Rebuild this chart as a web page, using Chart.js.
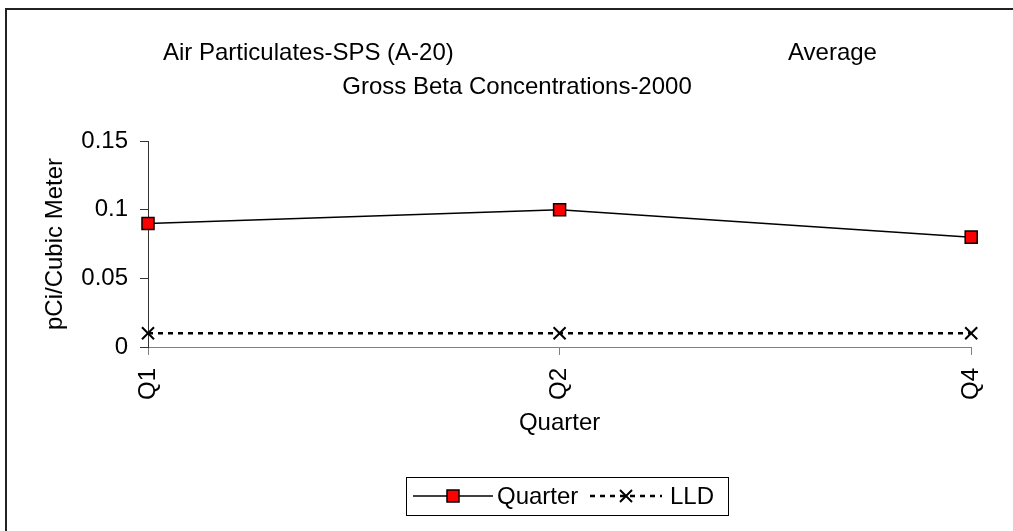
<!DOCTYPE html>
<html>
<head>
<meta charset="utf-8">
<script src="https://cdn.jsdelivr.net/npm/chart.js@4.4.1/dist/chart.umd.min.js"></script>
<style>
    html, body { margin: 0; padding: 0; background: #fff; }
    #wrap { width: 1013px; height: 531px; position: relative; }
</style>
</head>
<body>
<div id="wrap"><canvas id="gross_beta"></canvas></div>
<script>
const quarters = ['Q1', 'Q2', 'Q4'];
const quarterValues = [0.09, 0.1, 0.08];
const lldValues = [0.01, 0.01, 0.01];
const yTicks = [0, 0.05, 0.1, 0.15];

const titleLeft = 'Air Particulates-SPS (A-20)';
const titleRight = 'Average';
const titleSecond = 'Gross Beta Concentrations-2000';

const FONT = "Arial, 'Liberation Sans', sans-serif";

// frame + titles
const framePlugin = {
    id: 'frame',
    beforeDraw(chart) {
        const ctx = chart.ctx;
        ctx.save();
        ctx.fillStyle = '#fff';
        ctx.fillRect(0, 0, chart.width, chart.height);
        ctx.strokeStyle = '#222';
        ctx.lineWidth = 2;
        ctx.beginPath();
        ctx.moveTo(6, chart.height + 5);
        ctx.lineTo(6, 9);
        ctx.lineTo(chart.width + 5, 9);
        ctx.stroke();
        ctx.restore();
    },
    afterDraw(chart) {
        const ctx = chart.ctx;
        ctx.save();
        ctx.fillStyle = '#000';
        ctx.font = '24px ' + FONT;
        ctx.textBaseline = 'alphabetic';
        ctx.textAlign = 'left';
        ctx.fillText(titleLeft, 163, 60);
        ctx.fillText(titleRight, 788, 60);
        ctx.textAlign = 'center';
        ctx.fillText(titleSecond, 517, 94);
        ctx.restore();
    }
};

// legend box drawn from the dataset styles
const legendPlugin = {
    id: 'boxLegend',
    afterDraw(chart) {
        const ctx = chart.ctx;
        const ds = chart.data.datasets;
        const box = {x: 406, y: 477, w: 322, h: 38};
        const midY = box.y + box.h / 2;
        ctx.save();
        ctx.fillStyle = '#fff';
        ctx.fillRect(box.x, box.y, box.w, box.h);
        ctx.strokeStyle = '#000';
        ctx.lineWidth = 1;
        ctx.strokeRect(box.x + 0.5, box.y + 0.5, box.w, box.h);

        const items = [{x: 413, w: 80, textX: 497}, {x: 590, w: 72, textX: 670}];
        items.forEach((item, i) => {
            const d = ds[i];
            ctx.save();
            ctx.strokeStyle = d.borderColor;
            ctx.lineWidth = d.borderWidth;
            ctx.setLineDash(d.borderDash || []);
            ctx.beginPath();
            ctx.moveTo(item.x, midY);
            ctx.lineTo(item.x + item.w, midY);
            ctx.stroke();
            ctx.restore();
            ctx.save();
            ctx.fillStyle = d.pointBackgroundColor;
            ctx.strokeStyle = d.pointBorderColor;
            ctx.lineWidth = d.pointBorderWidth;
            Chart.helpers.drawPoint(ctx, {
                pointStyle: d.pointStyle,
                radius: d.pointRadius,
                borderWidth: d.pointBorderWidth,
                rotation: 0
            }, item.x + item.w / 2, midY);
            ctx.restore();
            ctx.fillStyle = '#000';
            ctx.font = '24px ' + FONT;
            ctx.textBaseline = 'middle';
            ctx.textAlign = 'left';
            ctx.fillText(d.label, item.textX, midY + 1);
        });
        ctx.restore();
    }
};

const ctx = document.getElementById('gross_beta').getContext('2d');
const myChart = new Chart(ctx, {
    type: 'line',
    data: {
        labels: quarters,
        datasets: [{
            label: 'Quarter',
            data: quarterValues,
            borderColor: '#000',
            borderWidth: 1.5,
            tension: 0,
            fill: false,
            pointStyle: 'rect',
            pointRadius: 8.5,
            pointHoverRadius: 8.5,
            pointBackgroundColor: '#ff0000',
            pointBorderColor: '#000',
            pointBorderWidth: 1.5
        }, {
            label: 'LLD',
            data: lldValues,
            borderColor: '#000',
            borderWidth: 2.5,
            borderDash: [5, 5],
            tension: 0,
            fill: false,
            pointStyle: 'crossRot',
            pointRadius: 8.5,
            pointHoverRadius: 8.5,
            pointBackgroundColor: '#000',
            pointBorderColor: '#000',
            pointBorderWidth: 2
        }]
    },
    options: {
        responsive: true,
        maintainAspectRatio: false,
        animation: false,
        layout: {
            padding: {left: 37, right: 38, top: 141, bottom: 89}
        },
        plugins: {
            legend: {display: false},
            title: {display: false},
            tooltip: {enabled: false}
        },
        scales: {
            x: {
                offset: false,
                grid: {
                    drawOnChartArea: false,
                    drawTicks: true,
                    tickLength: 8,
                    color: '#808080'
                },
                border: {display: true, color: '#808080', width: 1},
                ticks: {
                    color: '#000',
                    padding: 13,
                    minRotation: 90,
                    maxRotation: 90,
                    autoSkip: false,
                    font: {size: 24, family: FONT}
                },
                title: {
                    display: true,
                    text: 'Quarter',
                    color: '#000',
                    font: {size: 24, family: FONT},
                    padding: {top: 4, bottom: 4}
                },
                afterFit: axis => { axis.height = 95; }
            },
            y: {
                min: 0,
                max: 0.15,
                grid: {
                    drawOnChartArea: false,
                    drawTicks: true,
                    tickLength: 8,
                    color: '#333'
                },
                border: {display: true, color: '#333', width: 1},
                ticks: {
                    color: '#000',
                    padding: 12,
                    font: {size: 24, family: FONT},
                    callback: value => String(value)
                },
                afterBuildTicks: axis => {
                    axis.ticks = yTicks.map(v => ({value: v}));
                },
                title: {
                    display: true,
                    text: 'pCi/Cubic Meter',
                    color: '#000',
                    font: {size: 24, family: FONT},
                    padding: {top: 4, bottom: 4}
                },
                afterFit: axis => { axis.width = 111; }
            }
        }
    },
    plugins: [framePlugin, legendPlugin]
});
</script>
</body>
</html>
